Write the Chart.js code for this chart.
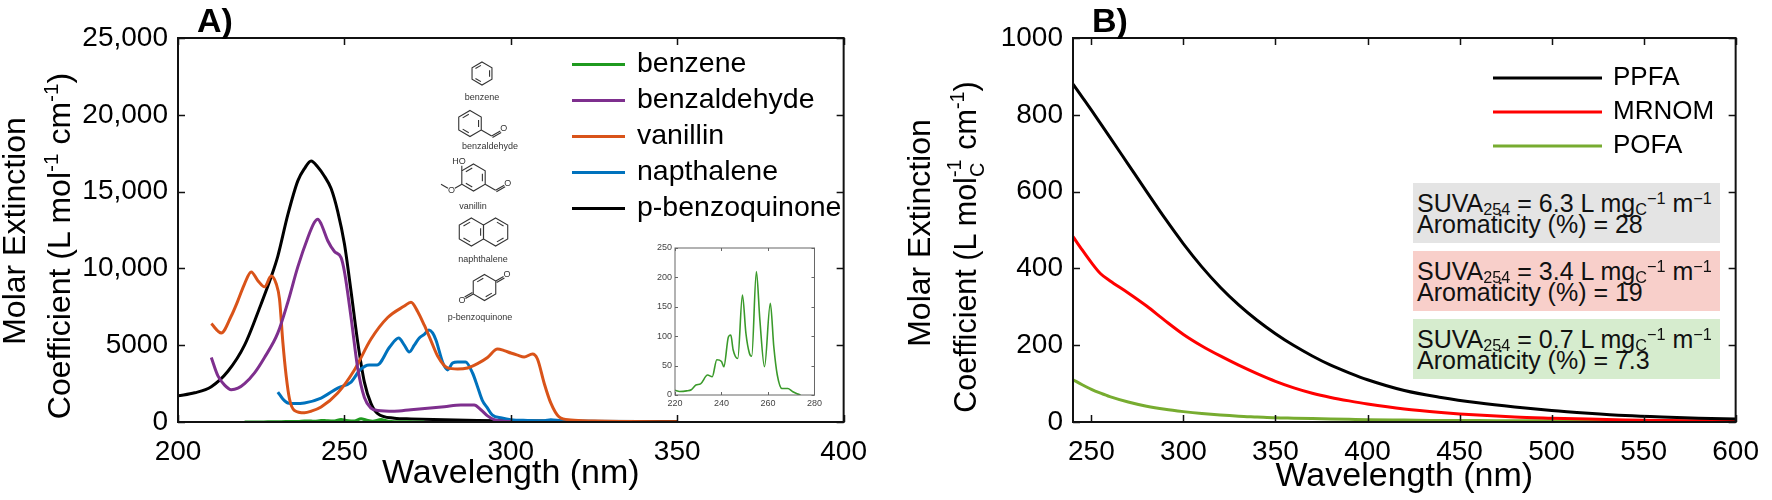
<!DOCTYPE html>
<html>
<head>
<meta charset="utf-8">
<script src="https://cdn.jsdelivr.net/npm/chart.js@4.4.0/dist/chart.umd.min.js"></script>
<style>
  html, body { margin: 0; padding: 0; background: #fff; }
  body { width: 1772px; height: 500px; position: relative; overflow: hidden;
         font-family: "Liberation Sans", Arial, Helvetica, sans-serif; color: #000; }
  .wrap { position: absolute; }
  .ytitle { position: absolute; white-space: nowrap; font-size: 32px; line-height: 1;
            transform: translate(-50%, -50%) rotate(-90deg); }
  .panel { position: absolute; top: 3px; font-weight: bold; font-size: 34px; line-height: 34px; }
  sup, sub { font-size: 0.65em; line-height: 0; position: relative; vertical-align: baseline; }
  sup { top: -0.6em; }
  sub { top: 0.3em; }
  .stk { display: inline-block; position: relative; width: 0.62em; height: 1px; }
  .stk span { position: absolute; left: 0; font-size: 0.65em; line-height: 1; }
  .stk .u { bottom: 0.55em; }
  .stk .d { top: -0.35em; }
  .suva { position: absolute; left: 1413px; width: 307px; height: 60px; box-sizing: border-box;
          padding: 10px 0 0 4px; font-size: 25px; line-height: 21px; white-space: nowrap; color: #111; }
  .suva sub { top: 0.2em; }
  .suva sup { top: -0.5em; }
</style>
</head>
<body>
<div class="wrap" style="left:0;top:0;width:880px;height:500px"><canvas id="chartA"></canvas></div>
<div class="wrap" style="left:880px;top:0;width:892px;height:500px"><canvas id="chartB"></canvas></div>
<div class="wrap" style="left:645px;top:238px;width:180px;height:175px"><canvas id="chartInset"></canvas></div>

<div class="panel" style="left:197px">A)</div>
<div class="panel" style="left:1092px">B)</div>

<div class="ytitle" style="left:14px;top:231px">Molar Extinction</div>
<div class="ytitle" style="left:59px;top:246px">Coefficient (L mol<sup>-1</sup> cm<sup>-1</sup>)</div>
<div class="ytitle" style="left:919px;top:233px">Molar Extinction</div>
<div class="ytitle" style="left:965px;top:247px;font-size:30.5px">Coefficient (L mol<span class="stk"><span class="u">-1</span><span class="d">C</span></span> cm<sup>-1</sup>)</div>

<div class="suva" style="top:183px;background:#e4e4e4">SUVA<sub>254</sub> = 6.3 L mg<sub>C</sub><sup>−1</sup> m<sup>−1</sup><br>Aromaticity (%) = 28</div>
<div class="suva" style="top:251px;background:#f8cfca">SUVA<sub>254</sub> = 3.4 L mg<sub>C</sub><sup>−1</sup> m<sup>−1</sup><br>Aromaticity (%) = 19</div>
<div class="suva" style="top:319px;background:#d6ecce">SUVA<sub>254</sub> = 0.7 L mg<sub>C</sub><sup>−1</sup> m<sup>−1</sup><br>Aromaticity (%) = 7.3</div>

<script>
const FONT = '"Liberation Sans", Arial, Helvetica, sans-serif';

// ---- Panel A: model compounds (wavelength nm / molar extinction) ----
const benzeneWl = [220, 222, 225, 227, 229, 231, 234, 236, 238, 240, 241, 243, 244, 245, 247, 249, 250.5, 252, 253, 255, 256.5, 258.5, 261, 262.5, 264, 266, 268.5, 270.5, 272.5, 274];
const benzeneVal = [8, 6, 7, 9, 17, 19, 34, 31, 60, 57, 48, 99, 102, 77, 62, 170, 105, 71, 66, 210, 128, 48, 156, 82, 34, 11, 11, 6, 2, 0];

const bzaWl = [210, 212, 214, 216, 218, 220, 223, 226, 230, 233, 236, 239, 241, 242, 243, 245, 247, 249, 250, 252, 254, 256, 258, 260, 265, 270, 275, 280, 285, 289, 291, 293, 295, 298, 300];
const bzaVal = [4200, 3000, 2400, 2100, 2200, 2500, 3200, 4200, 5800, 7800, 10100, 12000, 13000, 13200, 12900, 11800, 11100, 10700, 9800, 6800, 3500, 1600, 900, 750, 700, 800, 900, 1000, 1100, 1100, 800, 400, 150, 50, 30];

const vanWl = [210, 213, 216, 218, 220, 222, 224, 226, 228, 229.5, 230.5, 231.5, 232.5, 233.5, 235, 238, 240, 243, 248, 253, 258, 263, 268, 270, 272, 274, 276, 278, 281, 284, 287, 290, 293, 296, 298, 300, 302, 304, 306.5, 308, 310, 312, 314.5, 318, 325, 335, 350];
const vanVal = [6400, 5800, 6900, 7900, 9000, 9770, 9200, 8800, 9500, 9000, 8000, 5200, 3000, 1500, 750, 600, 700, 980, 1890, 3390, 5400, 6800, 7550, 7800, 7200, 6300, 5300, 4300, 3520, 3450, 3520, 3800, 4200, 4750, 4650, 4490, 4350, 4230, 4430, 4100, 2540, 1240, 330, 130, 60, 30, 10];

const napWl = [230, 231.5, 233, 235, 238, 243, 248, 252, 254.7, 257.4, 259.8, 263.6, 266.3, 268, 269.5, 271, 272.5, 274, 275.4, 276.5, 277.5, 279.6, 281, 282.5, 284, 286.4, 288.5, 290, 291.4, 293, 294.4, 297.3, 300, 305, 310, 312, 315, 320, 330];
const napVal = [1950, 1500, 1240, 1200, 1240, 1560, 2210, 2600, 3390, 3710, 3710, 4880, 5470, 5000, 4560, 5000, 5470, 5700, 5990, 5800, 5340, 3840, 3390, 3840, 3910, 3910, 3190, 2300, 1430, 900, 460, 260, 150, 100, 80, 150, 80, 50, 30];

const pbqWl = [200, 205, 210, 215, 220, 225, 228, 230, 233, 236, 238, 240, 242, 244, 246, 248, 250, 252, 254, 256, 258, 260, 265, 270, 280, 290, 300, 320, 350];
const pbqVal = [1700, 1900, 2300, 3300, 5000, 7700, 9450, 10800, 13500, 15700, 16500, 17000, 16600, 16000, 15200, 13700, 11600, 8500, 5200, 2600, 1200, 550, 250, 200, 150, 100, 80, 50, 30];

const xTicksA = [200, 250, 300, 350, 400];
const yTicksA = [0, 5000, 10000, 15000, 20000, 25000];
const yLabelsA = ['0', '5000', '10,000', '15,000', '20,000', '25,000'];

const xTicksInset = [220, 240, 260, 280];
const yTicksInset = [0, 50, 100, 150, 200, 250];

// ---- Panel B: NOM isolates ----
const nomWl = [240, 245, 250, 255, 260, 270, 280, 290, 300, 310, 320, 330, 340, 350, 360, 370, 380, 390, 400, 420, 440, 460, 480, 500, 520, 540, 560, 580, 600];
const ppfaVal = [880, 846, 812, 777, 742, 671, 600, 530, 464, 404, 351, 305, 265, 230, 199, 172, 148, 128, 110, 82, 64, 50, 39, 30, 23, 17, 13, 10, 8];
const mrnomVal = [483, 448, 415, 386, 368, 336, 302, 264, 228, 198, 172, 148, 126, 106, 89, 75, 64, 55, 47, 34, 25, 18, 13, 10, 7.5, 5.5, 4, 3, 3];
const pofaVal = [110, 97, 85, 75, 66, 52, 41, 33, 27, 22, 18, 15, 13, 11, 10, 9, 8, 7, 6, 5, 4, 4, 3, 3, 2, 2, 2, 2, 2];

const xTicksB = [250, 300, 350, 400, 450, 500, 550, 600];
const yTicksB = [0, 200, 400, 600, 800, 1000];

Chart.defaults.font.family = FONT;
Chart.defaults.color = '#000';

function toPoints(xs, ys) {
    return xs.map((x, i) => ({ x: x, y: ys[i] }));
}

function series(label, xs, ys, color, width) {
    return {
        label: label,
        data: toPoints(xs, ys),
        borderColor: color,
        backgroundColor: color,
        borderWidth: width || 3,
        pointRadius: 0,
        fill: false,
        cubicInterpolationMode: 'monotone'
    };
}

// box around the plot with inward ticks on all four sides
const framePlugin = {
    id: 'frame',
    afterDatasetsDraw(chart, args, opts) {
        const { ctx, chartArea: a, scales } = chart;
        ctx.save();
        ctx.strokeStyle = opts.color || '#000';
        ctx.lineWidth = opts.width || 2;
        ctx.strokeRect(a.left, a.top, a.right - a.left, a.bottom - a.top);
        const len = opts.tick || 7;
        ctx.beginPath();
        scales.x.ticks.forEach(t => {
            const px = Math.round(scales.x.getPixelForValue(t.value)) + 0.5;
            ctx.moveTo(px, a.bottom); ctx.lineTo(px, a.bottom - len);
            ctx.moveTo(px, a.top); ctx.lineTo(px, a.top + len);
        });
        scales.y.ticks.forEach(t => {
            const py = Math.round(scales.y.getPixelForValue(t.value)) + 0.5;
            ctx.moveTo(a.left, py); ctx.lineTo(a.left + len, py);
            ctx.moveTo(a.right, py); ctx.lineTo(a.right - len, py);
        });
        ctx.lineWidth = opts.tickWidth || 1.5;
        ctx.stroke();
        ctx.restore();
    }
};

// line-sample legend placed inside the plot
const lineLegendPlugin = {
    id: 'lineLegend',
    afterDatasetsDraw(chart, args, opts) {
        if (!opts.show) return;
        const ctx = chart.ctx;
        ctx.save();
        ctx.font = opts.size + 'px ' + FONT;
        ctx.textBaseline = 'middle';
        ctx.textAlign = 'left';
        chart.data.datasets.forEach((ds, i) => {
            const y = opts.y + i * opts.gap;
            ctx.strokeStyle = ds.borderColor;
            ctx.lineWidth = 3;
            ctx.beginPath();
            ctx.moveTo(opts.x, y);
            ctx.lineTo(opts.x + opts.len, y);
            ctx.stroke();
            ctx.fillStyle = '#000';
            ctx.fillText(ds.label, opts.x + opts.len + opts.textGap, y);
        });
        ctx.restore();
    }
};

// ---- small structure sketches for panel A ----
function bond(ctx, x1, y1, x2, y2) {
    ctx.beginPath();
    ctx.moveTo(x1, y1);
    ctx.lineTo(x2, y2);
    ctx.stroke();
}

function ring(ctx, cx, cy, r, inner) {
    const p = [];
    for (let k = 0; k < 6; k++) {
        const ang = (-90 + 60 * k) * Math.PI / 180;
        p.push([cx + r * Math.cos(ang), cy + r * Math.sin(ang)]);
    }
    ctx.beginPath();
    p.forEach((q, i) => i ? ctx.lineTo(q[0], q[1]) : ctx.moveTo(q[0], q[1]));
    ctx.closePath();
    ctx.stroke();
    inner.forEach(e => {
        const a = p[e], b = p[(e + 1) % 6];
        const s = 0.76, sh = 0.14;
        const ax = cx + (a[0] - cx) * s, ay = cy + (a[1] - cy) * s;
        const bx = cx + (b[0] - cx) * s, by = cy + (b[1] - cy) * s;
        bond(ctx, ax + (bx - ax) * sh, ay + (by - ay) * sh, bx - (bx - ax) * sh, by - (by - ay) * sh);
    });
    return p;
}

function doubleBond(ctx, a, b) {
    const dx = b[0] - a[0], dy = b[1] - a[1], L = Math.hypot(dx, dy);
    const nx = -dy / L * 1.7, ny = dx / L * 1.7;
    bond(ctx, a[0], a[1], b[0], b[1]);
    bond(ctx, a[0] + nx, a[1] + ny, b[0] + nx, b[1] + ny);
}

// C=O hanging off a vertex, direction (dx, dy)
function carbonyl(ctx, v, dx, dy, b) {
    doubleBond(ctx, v, [v[0] + dx * b, v[1] + dy * b]);
    ctx.fillText('O', v[0] + dx * (b + 4), v[1] + dy * (b + 4));
}

function aldehyde(ctx, v, b) {
    const c = [v[0] + 0.866 * b, v[1] + 0.5 * b];
    bond(ctx, v[0], v[1], c[0], c[1]);
    carbonyl(ctx, c, 0.866, -0.5, b - 2);
}

const structuresPlugin = {
    id: 'structures',
    afterDraw(chart) {
        const ctx = chart.ctx;
        ctx.save();
        ctx.strokeStyle = '#333';
        ctx.fillStyle = '#333';
        ctx.lineWidth = 1.1;
        ctx.font = '9px ' + FONT;
        ctx.textAlign = 'center';
        ctx.textBaseline = 'middle';

        ring(ctx, 482, 73.5, 11.5, [1, 3, 5]);
        ctx.fillText('benzene', 482, 98);

        let p = ring(ctx, 470, 123.5, 13, [1, 3, 5]);
        aldehyde(ctx, p[2], 12);
        ctx.fillText('benzaldehyde', 490, 147);

        p = ring(ctx, 473.5, 177.5, 13.5, [1, 3, 5]);
        aldehyde(ctx, p[2], 12);
        bond(ctx, p[5][0], p[5][1], p[5][0], p[5][1] - 5);
        ctx.textAlign = 'right';
        ctx.fillText('HO', p[5][0] + 4, p[5][1] - 9);
        ctx.textAlign = 'center';
        const o = [p[4][0] - 0.866 * 12, p[4][1] + 0.5 * 12];
        bond(ctx, p[4][0], p[4][1], o[0] + 0.866 * 4, o[1] - 0.5 * 4);
        ctx.fillText('O', o[0], o[1]);
        bond(ctx, o[0] - 0.866 * 4, o[1] - 0.5 * 4, o[0] - 0.866 * 12, o[1] - 0.5 * 12);
        ctx.fillText('vanillin', 473, 207);

        ring(ctx, 471.4, 232, 14, [1, 3, 5]);
        ring(ctx, 495.6, 232, 14, [0, 2]);
        ctx.fillText('naphthalene', 483, 260);

        p = ring(ctx, 484.5, 287.5, 13, [2, 5]);
        carbonyl(ctx, p[1], 0.866, -0.5, 9);
        carbonyl(ctx, p[4], -0.866, 0.5, 9);
        ctx.fillText('p-benzoquinone', 480, 318);
        ctx.restore();
    }
};

function fixedTicks(values) {
    return scale => { scale.ticks = values.map(v => ({ value: v })); };
}

// ---- Panel A chart ----
new Chart(document.getElementById('chartA'), {
    type: 'line',
    data: {
        datasets: [
            series('benzene', benzeneWl, benzeneVal, '#1f9a1f'),
            series('benzaldehyde', bzaWl, bzaVal, '#7e2f8e'),
            series('vanillin', vanWl, vanVal, '#d95319'),
            series('napthalene', napWl, napVal, '#0072bd'),
            series('p-benzoquinone', pbqWl, pbqVal, '#000000')
        ]
    },
    options: {
        responsive: true,
        maintainAspectRatio: false,
        animation: false,
        layout: { padding: { top: 38, right: 25, left: 0, bottom: 0 } },
        plugins: {
            legend: { display: false },
            tooltip: { enabled: false },
            frame: { color: '#111', width: 2, tick: 7 },
            lineLegend: { show: true, x: 572, y: 64.5, gap: 36, len: 53, textGap: 12, size: 28.5 }
        },
        scales: {
            x: {
                type: 'linear', min: 200, max: 400,
                afterBuildTicks: fixedTicks(xTicksA),
                afterFit: s => { s.height = 78; },
                grid: { display: false, drawTicks: false },
                border: { display: false },
                ticks: { font: { size: 28 }, padding: 13, maxRotation: 0, autoSkip: false, color: '#000' },
                title: { display: true, text: 'Wavelength (nm)', font: { size: 34 }, padding: { top: 0, bottom: 6 } }
            },
            y: {
                type: 'linear', min: 0, max: 25000,
                afterBuildTicks: fixedTicks(yTicksA),
                afterFit: s => { s.width = 178; },
                grid: { display: false, drawTicks: false },
                border: { display: false },
                ticks: {
                    font: { size: 28 }, padding: 10, color: '#000',
                    callback: v => yLabelsA[yTicksA.indexOf(v)]
                }
            }
        }
    },
    plugins: [framePlugin, lineLegendPlugin, structuresPlugin]
});

// ---- benzene inset ----
new Chart(document.getElementById('chartInset'), {
    type: 'line',
    data: {
        datasets: [series('benzene', benzeneWl, benzeneVal, '#3a9a2a', 1.6)]
    },
    options: {
        responsive: true,
        maintainAspectRatio: false,
        animation: false,
        layout: { padding: { top: 10, right: 9, left: 0, bottom: 0 } },
        plugins: {
            legend: { display: false },
            tooltip: { enabled: false },
            frame: { color: '#666', width: 1, tick: 3, tickWidth: 1 },
            lineLegend: { show: false }
        },
        scales: {
            x: {
                type: 'linear', min: 220, max: 280,
                afterBuildTicks: fixedTicks(xTicksInset),
                afterFit: s => { s.height = 18; },
                grid: { display: false, drawTicks: false },
                border: { display: false },
                ticks: { font: { size: 9 }, padding: 3, color: '#444', maxRotation: 0, autoSkip: false }
            },
            y: {
                type: 'linear', min: 0, max: 250,
                afterBuildTicks: fixedTicks(yTicksInset),
                afterFit: s => { s.width = 30; },
                grid: { display: false, drawTicks: false },
                border: { display: false },
                ticks: { font: { size: 9 }, padding: 3, color: '#444' }
            }
        }
    },
    plugins: [framePlugin]
});

// ---- Panel B chart ----
new Chart(document.getElementById('chartB'), {
    type: 'line',
    data: {
        datasets: [
            series('PPFA', nomWl, ppfaVal, '#000000'),
            series('MRNOM', nomWl, mrnomVal, '#ff0000'),
            series('POFA', nomWl, pofaVal, '#77ac30')
        ]
    },
    options: {
        responsive: true,
        maintainAspectRatio: false,
        animation: false,
        layout: { padding: { top: 38, right: 24, left: 0, bottom: 0 } },
        plugins: {
            legend: { display: false },
            tooltip: { enabled: false },
            frame: { color: '#111', width: 2, tick: 7 },
            lineLegend: { show: true, x: 613, y: 78, gap: 34, len: 109, textGap: 11, size: 26 }
        },
        scales: {
            x: {
                type: 'linear', min: 240, max: 600,
                afterBuildTicks: fixedTicks(xTicksB),
                afterFit: s => { s.height = 78; },
                grid: { display: false, drawTicks: false },
                border: { display: false },
                ticks: { font: { size: 28 }, padding: 13, maxRotation: 0, autoSkip: false, color: '#000' },
                title: { display: true, text: 'Wavelength (nm)', font: { size: 34 }, padding: { top: 0, bottom: 3 } }
            },
            y: {
                type: 'linear', min: 0, max: 1000,
                afterBuildTicks: fixedTicks(yTicksB),
                afterFit: s => { s.width = 193; },
                grid: { display: false, drawTicks: false },
                border: { display: false },
                ticks: { font: { size: 28 }, padding: 10, color: '#000', callback: v => String(v) }
            }
        }
    },
    plugins: [framePlugin, lineLegendPlugin]
});
</script>
</body>
</html>
